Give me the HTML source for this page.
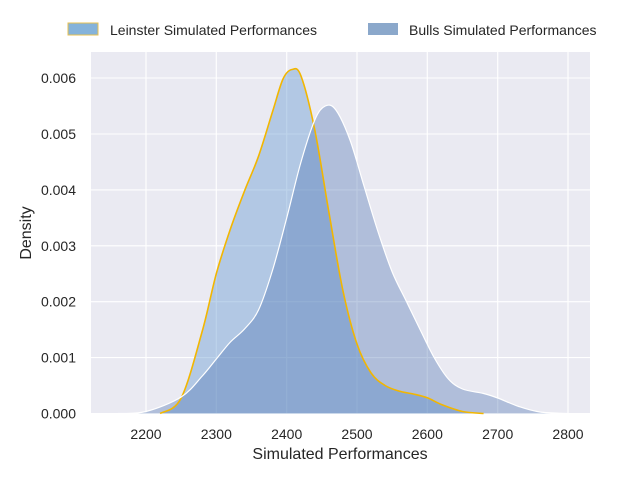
<!DOCTYPE html>
<html><head><meta charset="utf-8"><style>body{margin:0;background:#fff}svg{display:block}</style></head><body>
<svg width="640" height="480" xmlns="http://www.w3.org/2000/svg" font-family="Liberation Sans, DejaVu Sans, sans-serif" fill="#262626">
<rect x="91" y="52" width="499" height="362" fill="#eaeaf2"/>
<g stroke="#fff" stroke-width="1.1">
<line x1="146" y1="52" x2="146" y2="414"/><line x1="216.3" y1="52" x2="216.3" y2="414"/><line x1="286.7" y1="52" x2="286.7" y2="414"/><line x1="357" y1="52" x2="357" y2="414"/><line x1="427.3" y1="52" x2="427.3" y2="414"/><line x1="497.7" y1="52" x2="497.7" y2="414"/><line x1="568" y1="52" x2="568" y2="414"/>
<line x1="91" y1="413.5" x2="590" y2="413.5"/><line x1="91" y1="357.6" x2="590" y2="357.6"/><line x1="91" y1="301.7" x2="590" y2="301.7"/><line x1="91" y1="245.8" x2="590" y2="245.8"/><line x1="91" y1="189.9" x2="590" y2="189.9"/><line x1="91" y1="134" x2="590" y2="134"/><line x1="91" y1="78" x2="590" y2="78"/>
</g>
<path id="lf" fill="rgba(110,160,210,0.45)" d=""/>
<path id="bf" fill="rgba(76,114,176,0.37)" d=""/>
<path id="ll" fill="none" stroke="#f2b600" stroke-width="1.6" d=""/>
<path id="bl" fill="none" stroke="#fff" stroke-width="1.2" d=""/>
<g font-size="14" text-anchor="middle">
<text x="146" y="439">2200</text><text x="216.3" y="439">2300</text><text x="286.7" y="439">2400</text><text x="357" y="439">2500</text><text x="427.3" y="439">2600</text><text x="497.7" y="439">2700</text><text x="568" y="439">2800</text>
</g>
<g font-size="14" text-anchor="end">
<text x="76" y="418.5">0.000</text><text x="76" y="362.6">0.001</text><text x="76" y="306.7">0.002</text><text x="76" y="250.8">0.003</text><text x="76" y="194.9">0.004</text><text x="76" y="139">0.005</text><text x="76" y="83">0.006</text>
</g>
<text x="340" y="459" font-size="16" text-anchor="middle">Simulated Performances</text>
<text transform="translate(31,233) rotate(-90)" font-size="16" text-anchor="middle">Density</text>
<rect x="68" y="23" width="30" height="12" fill="#85b3da" stroke="#e8c050" stroke-width="1"/>
<text x="110" y="35" font-size="14">Leinster Simulated Performances</text>
<rect x="368" y="23" width="30" height="12" fill="#8ba8cb"/>
<text x="409" y="35" font-size="14">Bulls Simulated Performances</text>
</svg>
<script>
var L=[[160.1,413.5],[181.2,398],[202.3,331],[216.3,273.7],[230.4,229],[244.5,191],[258.5,156.3],[272.6,111.5],[283,79],[292,69.5],[301,76],[314.8,130],[328.9,212.2],[342.9,290.5],[357,344],[371.1,373],[385.1,385.5],[399.2,391.1],[413.3,394],[427.3,397.8],[441.4,404.5],[462.5,411.5],[483.6,413.5]];
var B=[[117.9,413.5],[146,411.5],[181.2,397],[202.3,376],[216.3,359],[230.4,342],[244.5,329],[258.5,310],[272.6,270],[286.7,218],[300.7,163],[314.8,120],[325.3,106],[335.9,110],[350,140],[364,186],[378.1,232],[392.2,272],[406.2,301],[420.3,330],[434.4,358],[448.4,379],[462.5,389],[483.6,393.5],[497.7,398],[518.8,406.5],[539.9,412],[568,413.5]];
function cr(p){var d="M"+p[0][0]+","+p[0][1];for(var i=0;i<p.length-1;i++){var a=p[Math.max(i-1,0)],b=p[i],c=p[i+1],e=p[Math.min(i+2,p.length-1)];d+=" C"+(b[0]+(c[0]-a[0])/6)+","+(b[1]+(c[1]-a[1])/6)+" "+(c[0]-(e[0]-b[0])/6)+","+(c[1]-(e[1]-b[1])/6)+" "+c[0]+","+c[1];}return d;}
var l=cr(L),b=cr(B);
document.getElementById("lf").setAttribute("d",l+" Z");document.getElementById("bf").setAttribute("d",b+" Z");
document.getElementById("ll").setAttribute("d",l);document.getElementById("bl").setAttribute("d",b);
</script>
</body></html>
